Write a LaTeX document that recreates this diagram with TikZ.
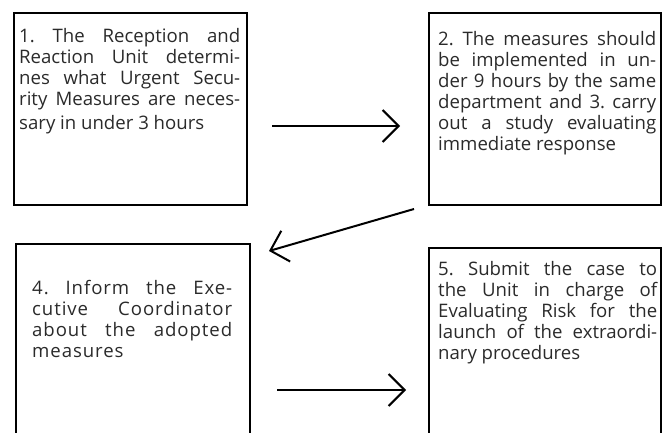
\documentclass[tikz,border=0pt]{standalone}
\usepackage{fontspec}
\setmainfont{Open Sans}
\usepackage{xcolor}
\usepackage{tikz}
\usetikzlibrary{arrows.meta, positioning, calc}
\definecolor{mydark}{RGB}{0,0,0}
\definecolor{mytext}{RGB}{42,42,42}
\tikzset{
  stepframe/.style={rectangle, draw=mydark, line width=2pt, inner sep=0pt},
  steptext/.style={anchor=north west, inner sep=0pt, align=justify,
    text=mytext, font=\fontsize{18.6}{21}\selectfont\frenchspacing},
  arrow/.style={-{Straight Barb[length=16pt, width=32pt]}, line width=2pt, color=mydark}
}
\begin{document}
\begin{tikzpicture}[x=1pt, y=-1pt]
  \clip (0,0) rectangle (669,433);

  % Frames
  \node[stepframe, minimum width=233pt, minimum height=192pt] (box1) at (130.5,109) {};
  \node[stepframe, minimum width=232pt, minimum height=192pt] (box2) at (545,109) {};
  \node[stepframe, minimum width=234pt, minimum height=216pt] (box4) at (133,352) {};
  \node[stepframe, minimum width=232pt, minimum height=212pt] (box5) at (545,354) {};

  % Texts
  \node[steptext, text width=221pt] (txt1) at ([xshift=6pt, yshift=-16pt]box1.north west)
    {1. The Reception and\linebreak Reaction Unit determi-\linebreak nes what Urgent Secu-\linebreak
     rity Measures are neces-\vadjust{\vskip 3pt}\linebreak sary in under 3 hours};
  \node[steptext, text width=218pt] (txt2) at ([xshift=10pt, yshift=-19pt]box2.north west)
    {2. The measures should\linebreak be implemented in un-\linebreak der 9 hours by the same\linebreak
     department and 3. carry\linebreak out a study evaluating\linebreak immediate response};
  \node[steptext, text width=200pt, font=\fontsize{18.6}{21}\selectfont\frenchspacing\addfontfeature{LetterSpace=5}] (txt4)
    at ([xshift=17pt, yshift=-37pt]box4.north west)
    {4. Inform the Exe-\linebreak cutive Coordinator\linebreak about the adopted\linebreak measures};
  \node[steptext, text width=219pt] (txt5) at ([xshift=10pt, yshift=-14pt]box5.north west)
    {5. Submit the case to\linebreak the Unit in charge of\linebreak Evaluating Risk for the\linebreak
     launch of the extraordi-\linebreak nary procedures};

  % Arrows
  \draw[arrow] ([xshift=24pt, yshift=-17pt]box1.east) -- ([xshift=-28pt, yshift=-17pt]box2.west);
  \draw[arrow] ([xshift=-14pt, yshift=-3pt]box2.south west) -- ([xshift=18pt, yshift=-8pt]box4.north east);
  \draw[arrow] ([xshift=26pt, yshift=-38pt]box4.east) -- ([xshift=-22pt, yshift=-36pt]box5.west);
\end{tikzpicture}
\end{document}
